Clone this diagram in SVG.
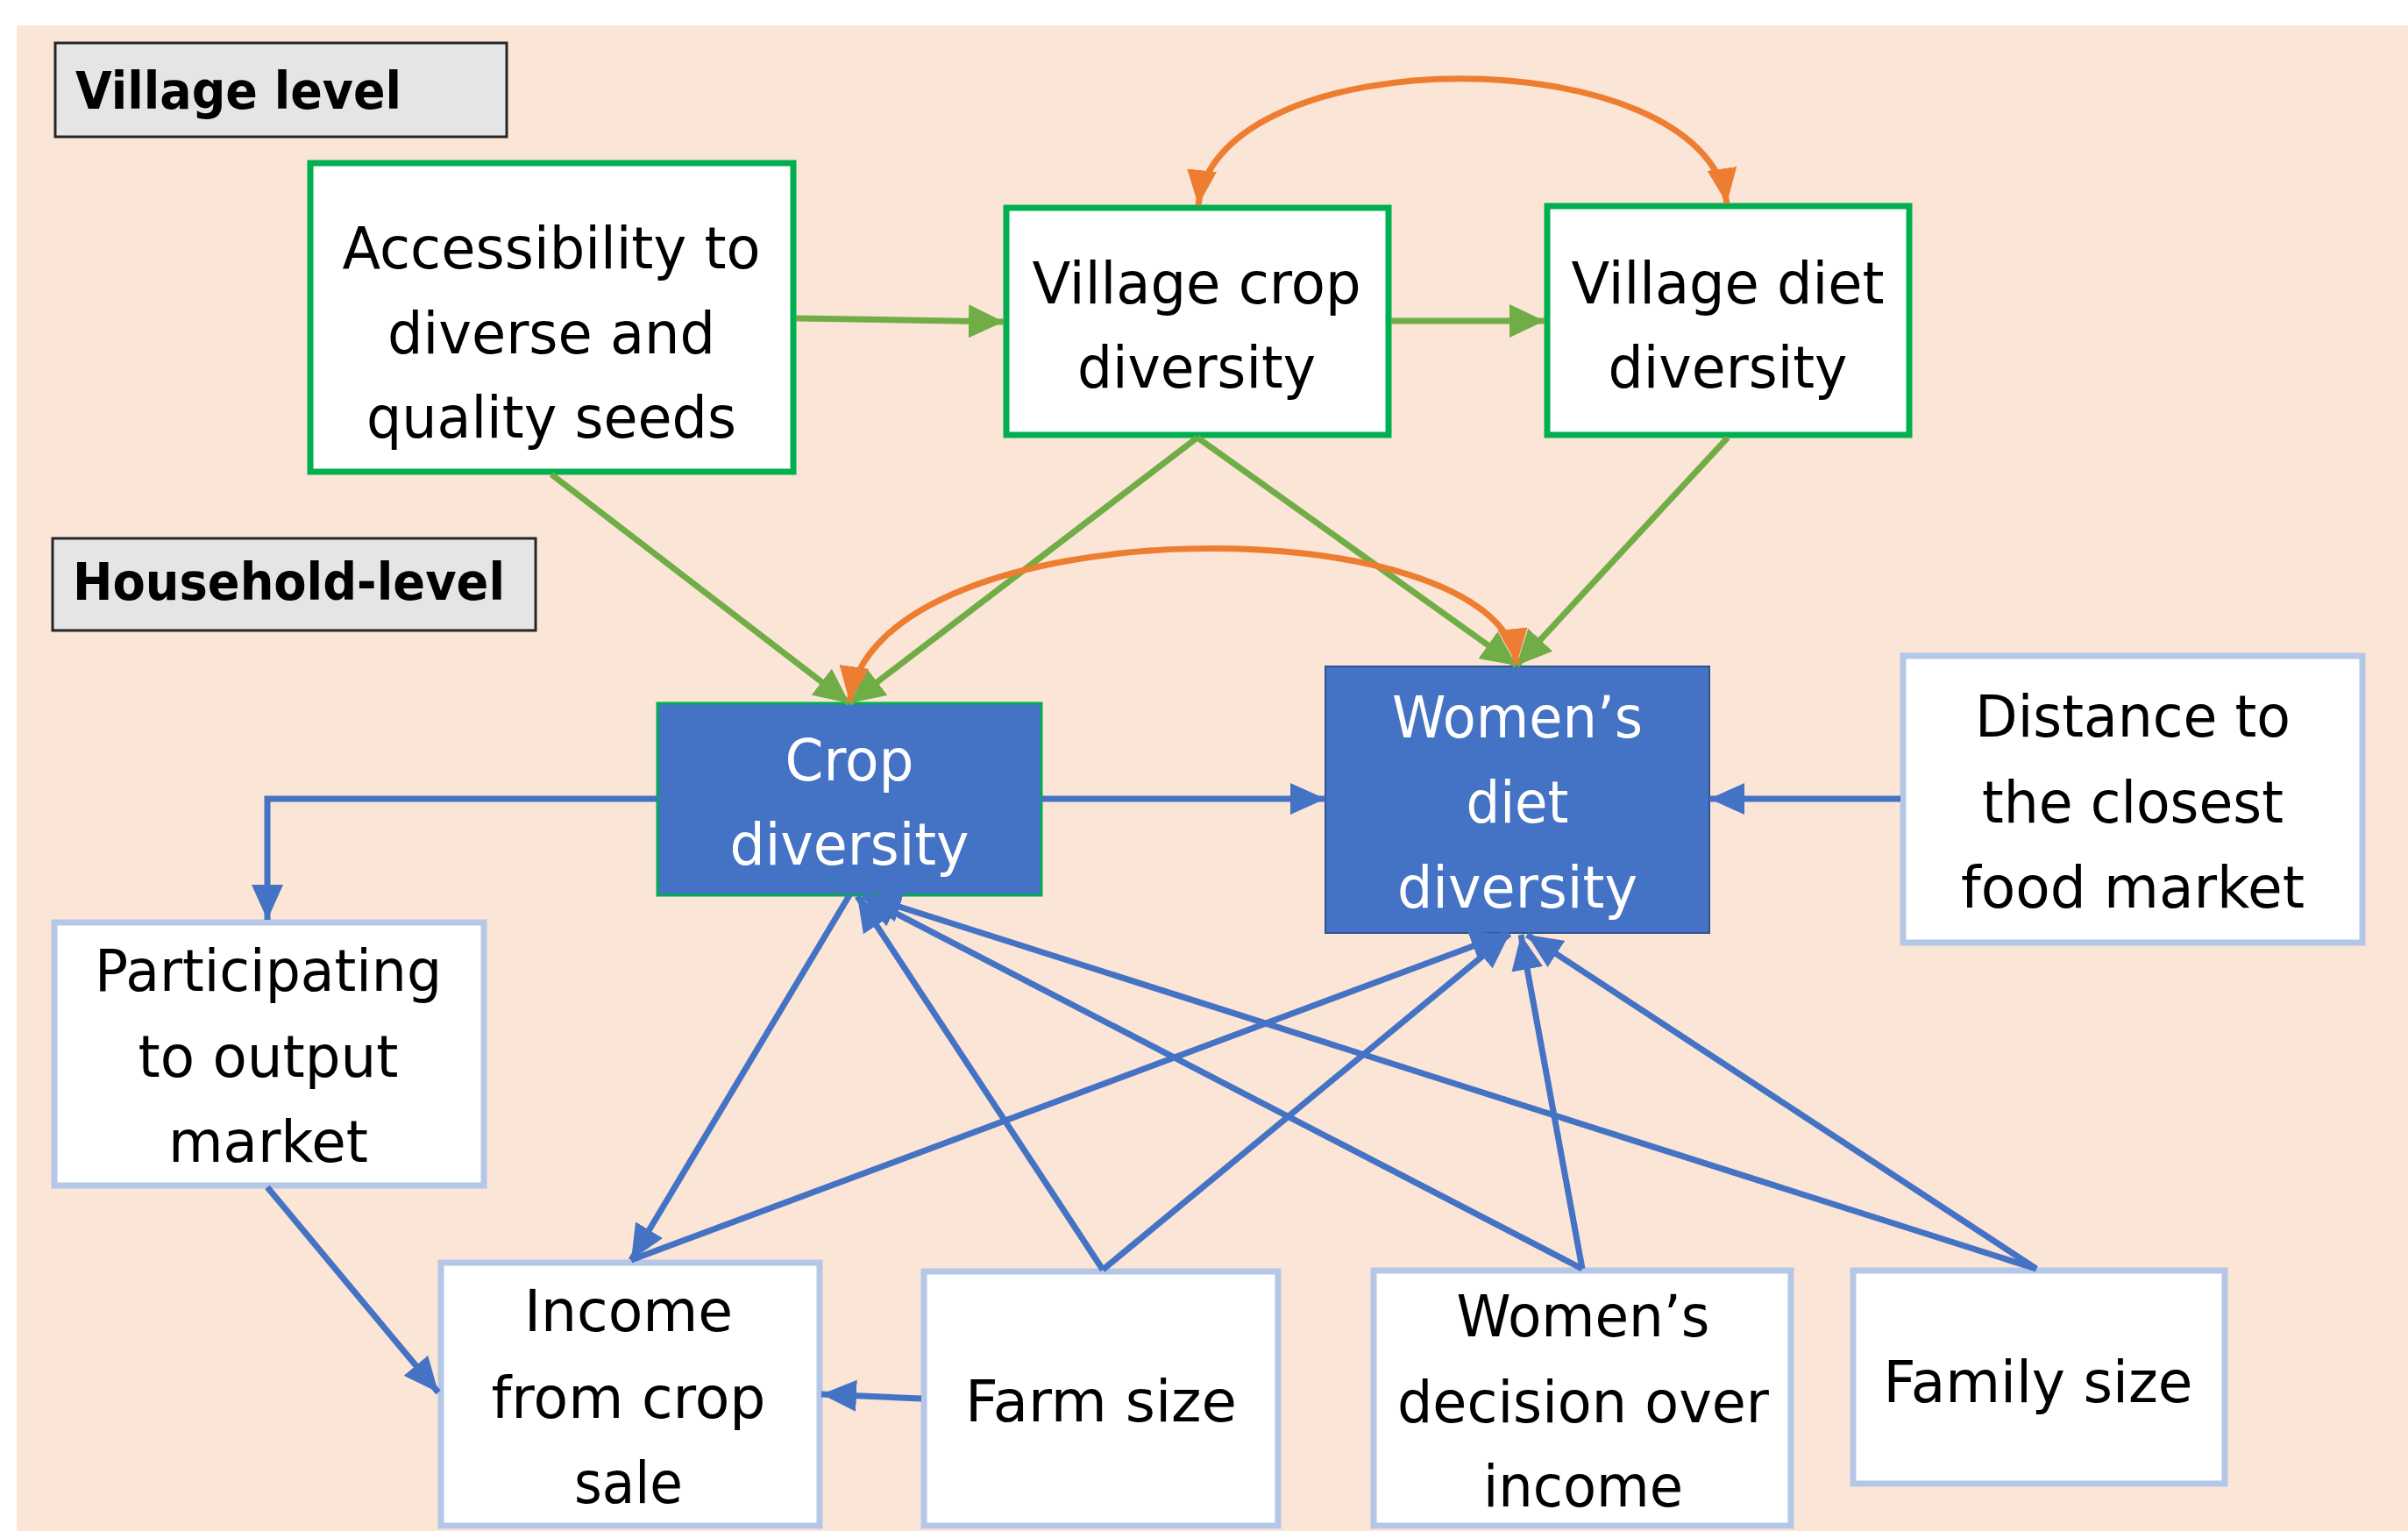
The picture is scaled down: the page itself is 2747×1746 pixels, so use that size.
<svg xmlns="http://www.w3.org/2000/svg" width="2747" height="1746" viewBox="0 0 2747 1746">
<style>
.t{font-family:"DejaVu Sans","Liberation Sans",sans-serif;font-size:66px;fill:#000;text-anchor:middle}
.w{fill:#fff}
.lbl{font-family:"DejaVu Sans","Liberation Sans",sans-serif;font-size:59px;font-weight:bold;fill:#000}
.gbox{fill:#fff;stroke:#00B050;stroke-width:7}
.lbox{fill:#fff;stroke:#B4C7E7;stroke-width:7}
.bbox{fill:#4472C4}
.tag{fill:#E5E5E5;stroke:#262626;stroke-width:3}
.g{stroke:#70AD47;stroke-width:7;fill:none;marker-end:url(#ag)}
.b{stroke:#4472C4;stroke-width:7;fill:none;marker-end:url(#ab)}
.o{stroke:#ED7D31;stroke-width:7;fill:none;marker-start:url(#ao);marker-end:url(#ao)}
</style>
<defs>
<marker id="ag" markerUnits="userSpaceOnUse" markerWidth="42" markerHeight="38" refX="40" refY="19" orient="auto"><path d="M0,0 L40,19 L0,38 z" fill="#70AD47"/></marker>
<marker id="ab" markerUnits="userSpaceOnUse" markerWidth="42" markerHeight="36" refX="40" refY="18" orient="auto"><path d="M0,0 L40,18 L0,36 z" fill="#4472C4"/></marker>
<marker id="ao" markerUnits="userSpaceOnUse" markerWidth="42" markerHeight="34" refX="40" refY="17" orient="auto-start-reverse"><path d="M0,0 L40,17 L0,34 z" fill="#ED7D31"/></marker>
</defs>
<rect x="0" y="0" width="2747" height="1746" fill="#fff"/>
<rect x="19" y="29" width="2728" height="1717" fill="#FBE5D6"/>

<g id="label-village">
<rect class="tag" x="63" y="49" width="515" height="107"/>
<text class="lbl" x="86" y="124" textLength="372" lengthAdjust="spacingAndGlyphs">Village level</text>
</g>
<g id="label-household">
<rect class="tag" x="60" y="614" width="551" height="105"/>
<text class="lbl" x="83" y="684" textLength="493" lengthAdjust="spacingAndGlyphs">Household-level</text>
</g>

<g id="node-access">
<rect class="gbox" x="354" y="186" width="551" height="352"/>
<text class="t" x="629" y="306" textLength="477" lengthAdjust="spacingAndGlyphs">Accessibility to</text>
<text class="t" x="629" y="403" textLength="374" lengthAdjust="spacingAndGlyphs">diverse and</text>
<text class="t" x="629" y="499" textLength="422" lengthAdjust="spacingAndGlyphs">quality seeds</text>
</g>
<g id="node-vcrop">
<rect class="gbox" x="1148" y="237" width="436" height="259"/>
<text class="t" x="1365" y="346" textLength="375" lengthAdjust="spacingAndGlyphs">Village crop</text>
<text class="t" x="1365" y="442" textLength="272" lengthAdjust="spacingAndGlyphs">diversity</text>
</g>
<g id="node-vdiet">
<rect class="gbox" x="1765" y="235" width="413" height="261"/>
<text class="t" x="1971" y="346" textLength="357" lengthAdjust="spacingAndGlyphs">Village diet</text>
<text class="t" x="1971" y="442" textLength="273" lengthAdjust="spacingAndGlyphs">diversity</text>
</g>
<g id="node-crop">
<rect class="bbox" x="750" y="802" width="438" height="219" stroke="#00B050" stroke-width="3"/>
<text class="t w" x="969" y="890" textLength="147" lengthAdjust="spacingAndGlyphs">Crop</text>
<text class="t w" x="969" y="986" textLength="273" lengthAdjust="spacingAndGlyphs">diversity</text>
</g>
<g id="node-wdiet">
<rect class="bbox" x="1512" y="760" width="438" height="304" stroke="#2F528F" stroke-width="2"/>
<text class="t w" x="1731" y="841" textLength="286" lengthAdjust="spacingAndGlyphs">Women’s</text>
<text class="t w" x="1731" y="938" textLength="117" lengthAdjust="spacingAndGlyphs">diet</text>
<text class="t w" x="1731" y="1035" textLength="274" lengthAdjust="spacingAndGlyphs">diversity</text>
</g>
<g id="node-distance">
<rect class="lbox" x="2171" y="748" width="524" height="327"/>
<text class="t" x="2433" y="840" textLength="360" lengthAdjust="spacingAndGlyphs">Distance to</text>
<text class="t" x="2433" y="938" textLength="344" lengthAdjust="spacingAndGlyphs">the closest</text>
<text class="t" x="2433" y="1035" textLength="392" lengthAdjust="spacingAndGlyphs">food market</text>
</g>
<g id="node-particip">
<rect class="lbox" x="62" y="1052" width="490" height="300"/>
<text class="t" x="306" y="1130" textLength="396" lengthAdjust="spacingAndGlyphs">Participating</text>
<text class="t" x="306" y="1228" textLength="297" lengthAdjust="spacingAndGlyphs">to output</text>
<text class="t" x="306" y="1325" textLength="228" lengthAdjust="spacingAndGlyphs">market</text>
</g>
<g id="node-income">
<rect class="lbox" x="503" y="1440" width="432" height="300"/>
<text class="t" x="717" y="1518" textLength="238" lengthAdjust="spacingAndGlyphs">Income</text>
<text class="t" x="717" y="1617" textLength="313" lengthAdjust="spacingAndGlyphs">from crop</text>
<text class="t" x="717" y="1714" textLength="124" lengthAdjust="spacingAndGlyphs">sale</text>
</g>
<g id="node-farm">
<rect class="lbox" x="1054" y="1450" width="404" height="290"/>
<text class="t" x="1256" y="1621" textLength="310" lengthAdjust="spacingAndGlyphs">Farm size</text>
</g>
<g id="node-decision">
<rect class="lbox" x="1567" y="1449" width="476" height="291"/>
<text class="t" x="1806" y="1524" textLength="289" lengthAdjust="spacingAndGlyphs">Women’s</text>
<text class="t" x="1806" y="1622" textLength="424" lengthAdjust="spacingAndGlyphs">decision over</text>
<text class="t" x="1806" y="1718" textLength="228" lengthAdjust="spacingAndGlyphs">income</text>
</g>
<g id="node-family">
<rect class="lbox" x="2114" y="1449" width="424" height="243"/>
<text class="t" x="2325" y="1599" textLength="353" lengthAdjust="spacingAndGlyphs">Family size</text>
</g>

<g id="connectors">
<line class="g" x1="908" y1="363" x2="1145" y2="367"/>
<line class="g" x1="1587" y1="366" x2="1762" y2="366"/>
<line class="g" x1="629" y1="541" x2="969" y2="802"/>
<line class="g" x1="1366" y1="499" x2="969" y2="802"/>
<line class="g" x1="1366" y1="499" x2="1730" y2="759"/>
<line class="g" x1="1971" y1="499" x2="1730" y2="759"/>
<path class="o" d="M1367,234 C1387,42 1943,42 1970,232"/>
<path class="o" d="M969,800 C1000,575 1710,575 1730,757"/>
<path class="b" d="M750,911 H305 V1049"/>
<line class="b" x1="1188" y1="911" x2="1512" y2="911"/>
<line class="b" x1="2168" y1="911" x2="1950" y2="911"/>
<line class="b" x1="305" y1="1354" x2="500" y2="1588"/>
<line class="b" x1="1051" y1="1595" x2="937" y2="1590"/>
<line class="b" x1="969" y1="1021" x2="720" y2="1437"/>
<line class="b" x1="720" y1="1437" x2="1718" y2="1065"/>
<line class="b" x1="1258" y1="1448" x2="978" y2="1022"/>
<line class="b" x1="1258" y1="1448" x2="1722" y2="1065"/>
<line class="b" x1="1805" y1="1447" x2="984" y2="1022"/>
<line class="b" x1="1805" y1="1447" x2="1735" y2="1066"/>
<line class="b" x1="2323" y1="1447" x2="988" y2="1022"/>
<line class="b" x1="2323" y1="1447" x2="1742" y2="1066"/>
</g>
</svg>
